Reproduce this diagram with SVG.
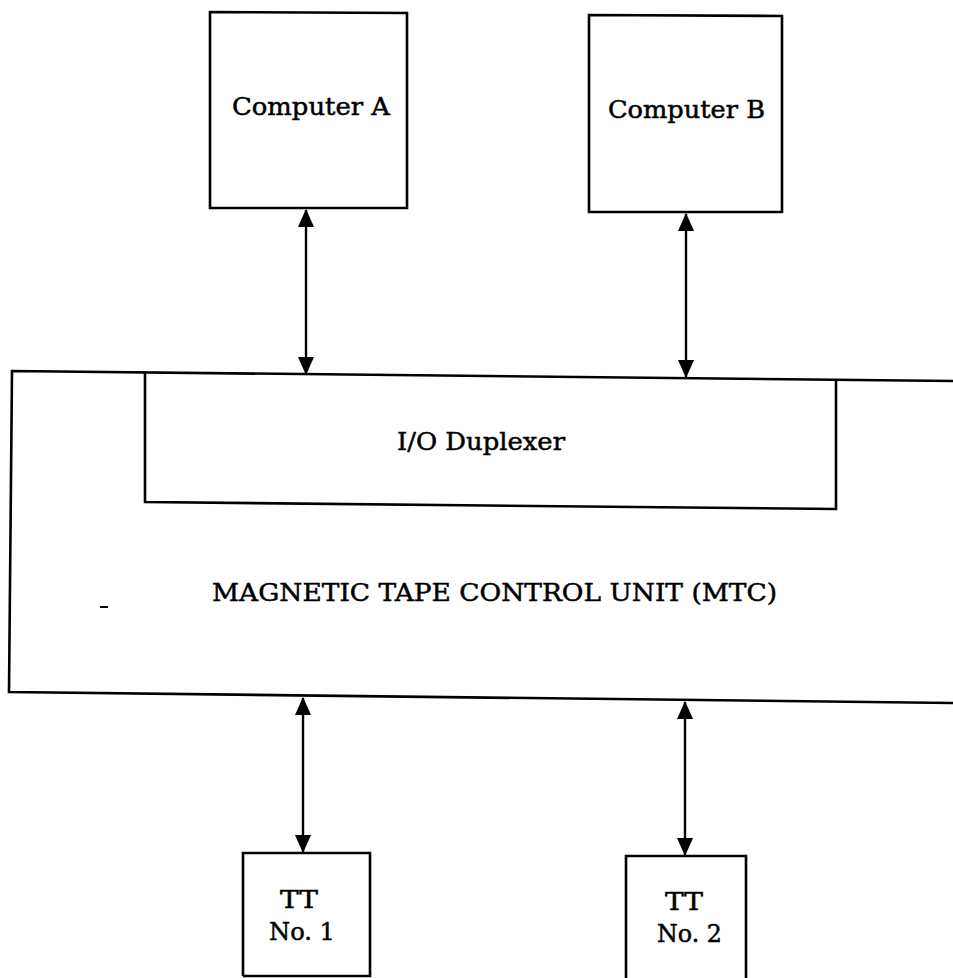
<svg xmlns="http://www.w3.org/2000/svg" width="953" height="978" viewBox="0 0 953 978">
<style>
.box{fill:none;stroke:#000;stroke-width:2.6;stroke-linejoin:miter}
.lbl{font-family:"DejaVu Serif","Liberation Serif",serif;font-size:25px;fill:#000;stroke:#000;stroke-width:0.5}
.con{stroke:#000;stroke-width:2.4;fill:none}
</style>
<defs>
<marker id="ah" markerUnits="userSpaceOnUse" markerWidth="18" markerHeight="22" viewBox="0 0 18 22" refX="17" refY="8" orient="auto-start-reverse">
<path d="M0,0 L18,8 L0,16 Z" fill="#000"/>
</marker>
</defs>
<rect width="953" height="978" fill="#fff"/>
<g id="computer-a">
<polygon class="box" points="210,12 407,13 407,208 210,208"/>
<text class="lbl" x="232" y="115" textLength="158" lengthAdjust="spacingAndGlyphs">Computer A</text>
</g>
<g id="computer-b">
<polygon class="box" points="589,15 782,16 782,212 589,212"/>
<text class="lbl" x="608" y="118" textLength="157" lengthAdjust="spacingAndGlyphs">Computer B</text>
</g>
<g id="mtc">
<polyline class="box" points="953,381 12,371 9,692 953,703"/>
<text class="lbl" x="212" y="601" textLength="565" lengthAdjust="spacingAndGlyphs">MAGNETIC TAPE CONTROL UNIT (MTC)</text>
<path d="M100,607 L108,607" stroke="#000" stroke-width="2"/>
</g>
<g id="io-duplexer">
<polyline class="box" points="145,372 145,502 836,509 836,380"/>
<text class="lbl" x="397" y="450" textLength="168" lengthAdjust="spacingAndGlyphs">I/O Duplexer</text>
</g>
<g id="tt1">
<polyline class="box" points="243,976 243,853 370,853 370,976 243,976"/>
<text class="lbl" x="280" y="908" textLength="38" lengthAdjust="spacingAndGlyphs">TT</text>
<text class="lbl" x="269" y="940" textLength="66" lengthAdjust="spacingAndGlyphs">No. 1</text>
</g>
<g id="tt2">
<polyline class="box" points="626,980 626,856 746,856 746,980"/>
<text class="lbl" x="665" y="910" textLength="38" lengthAdjust="spacingAndGlyphs">TT</text>
<text class="lbl" x="657" y="942" textLength="65" lengthAdjust="spacingAndGlyphs">No. 2</text>
</g>
<g id="connectors">
<line class="con" x1="306" y1="210" x2="306" y2="374" marker-start="url(#ah)" marker-end="url(#ah)"/>
<line class="con" x1="686" y1="214" x2="686" y2="377" marker-start="url(#ah)" marker-end="url(#ah)"/>
<line class="con" x1="303" y1="698" x2="303" y2="852" marker-start="url(#ah)" marker-end="url(#ah)"/>
<line class="con" x1="685" y1="702" x2="685" y2="855" marker-start="url(#ah)" marker-end="url(#ah)"/>
</g>
</svg>
